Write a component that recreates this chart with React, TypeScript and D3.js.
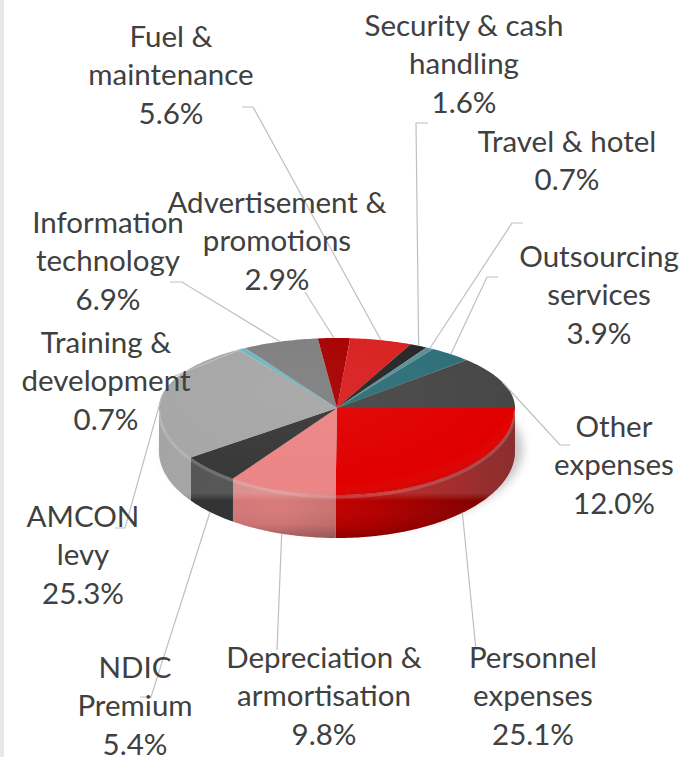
import React from "react";
import * as d3 from "d3";

// ---------- data ----------
const categories = [
  "Personnel\nexpenses",
  "Depreciation &\narmortisation",
  "NDIC\nPremium",
  "AMCON\nlevy",
  "Training &\ndevelopment",
  "Information\ntechnology",
  "Advertisement &\npromotions",
  "Fuel &\nmaintenance",
  "Security & cash\nhandling",
  "Travel & hotel",
  "Outsourcing\nservices",
  "Other\nexpenses",
];
const shares = [25.1, 9.8, 5.4, 25.3, 0.7, 6.9, 2.9, 5.6, 1.6, 0.7, 3.9, 12.0];
const colors = [
  "#E00000", "#EC8585", "#383838", "#A6A6A6", "#6FB6BE", "#7F7F7F",
  "#A80000", "#D92020", "#262626", "#5E8F96", "#2E6F78", "#474747",
];

// ---------- layout (label placement, as laid out in the reference) ----------
const labelPos: [number, number][] = [
  [533, 668], [324, 668], [135, 678], [83, 527], [106, 353], [108, 233],
  [277, 213], [171, 47], [464, 36], [567, 152], [599, 267], [614, 437],
];
const leaderElbows: [number, number][][] = [
  [[476, 650]],
  [[277, 650]],
  [[140, 697], [151, 697]],
  [[115, 528], [125, 528]],
  [[170, 378]],
  [[170, 282], [182, 282]],
  [[305, 292]],
  [[242, 107], [253, 107]],
  [[428, 123], [416, 123]],
  [[523, 223], [512, 223]],
  [[498, 277], [487, 277]],
  [[570, 445], [560, 445]],
];

const W = 681, H = 757;
const cx = 337, cy = 408, rx = 178, ryBack = 70, ryFront = 87, depth = 43;
const LH = 38.3;
const FONT = "Lato, 'Open Sans', sans-serif";
const FS = 29.5;

function pt(a: number, dy = 0): [number, number] {
  const c = Math.cos(a);
  const ry = c > 0 ? ryBack : ryFront;
  return [cx + rx * Math.sin(a), cy - ry * c + dy];
}

function arcPoints(a0: number, a1: number, dy = 0): [number, number][] {
  const n = Math.max(2, Math.ceil(Math.abs(a1 - a0) / (Math.PI / 180)));
  const out: [number, number][] = [];
  for (let i = 0; i <= n; i++) out.push(pt(a0 + ((a1 - a0) * i) / n, dy));
  return out;
}

function topPath(a0: number, a1: number) {
  const p = d3.path();
  p.moveTo(cx, cy);
  arcPoints(a0, a1).forEach(([x, y]) => p.lineTo(x, y));
  p.closePath();
  return p.toString();
}

function sidePath(a0: number, a1: number) {
  const p = d3.path();
  const top = arcPoints(a0, a1);
  const bot = arcPoints(a1, a0, depth);
  top.forEach(([x, y], i) => (i === 0 ? p.moveTo(x, y) : p.lineTo(x, y)));
  bot.forEach(([x, y]) => p.lineTo(x, y));
  p.closePath();
  return p.toString();
}

export default function App() {
  const pie = d3
    .pie<number>()
    .sort(null)
    .value((d) => d)
    .startAngle(Math.PI / 2)
    .endAngle(Math.PI / 2 + 2 * Math.PI);
  const arcs = pie(shares);

  const frontA = Math.PI / 2, frontB = (3 * Math.PI) / 2;

  const sides = arcs
    .map((a, i) => {
      const s = Math.max(a.startAngle, frontA);
      const e = Math.min(a.endAngle, frontB);
      if (e <= s) return null;
      return { i, d: sidePath(s, e) };
    })
    .filter(Boolean) as { i: number; d: string }[];

  const fullTop = topPath(Math.PI / 2, Math.PI / 2 + 2 * Math.PI);
  const frontRim = d3.line()(arcPoints(frontA, frontB, 2)) as string;

  return (
    <svg
      width={W}
      height={H}
      style={{ position: "absolute", left: 0, top: 0, background: "#fff" }}
      fontFamily={FONT}
    >
      <defs>
        <filter id="shadowBlur" x="-20%" y="-40%" width="140%" height="180%">
          <feGaussianBlur stdDeviation="5" />
        </filter>
        <linearGradient id="sideShade" gradientUnits="userSpaceOnUse" x1={cx - rx} x2={cx + rx} y1={0} y2={0}>
          <stop offset="0" stopColor="#000" stopOpacity="0.05" />
          <stop offset="0.35" stopColor="#000" stopOpacity="0" />
          <stop offset="0.6" stopColor="#000" stopOpacity="0.12" />
          <stop offset="1" stopColor="#000" stopOpacity="0.45" />
        </linearGradient>
        <linearGradient id="sideBevel" gradientUnits="userSpaceOnUse" x1={0} x2={0} y1={cy + ryFront - 2} y2={cy + ryFront + depth}>
          <stop offset="0" stopColor="#fff" stopOpacity="0.18" />
          <stop offset="0.18" stopColor="#fff" stopOpacity="0" />
          <stop offset="0.7" stopColor="#000" stopOpacity="0.05" />
          <stop offset="1" stopColor="#000" stopOpacity="0.25" />
        </linearGradient>
        <radialGradient id="topShade" cx="0.4" cy="0.35" r="0.7">
          <stop offset="0" stopColor="#fff" stopOpacity="0.05" />
          <stop offset="0.85" stopColor="#fff" stopOpacity="0" />
          <stop offset="1" stopColor="#000" stopOpacity="0.1" />
        </radialGradient>
      </defs>

      <rect x={0} y={0} width={4} height={H} fill="#E9E6E3" />

      {/* shadow */}
      <ellipse
        cx={cx + 6}
        cy={cy + depth - 2}
        rx={rx + 2}
        ry={ryFront - 4}
        fill="#000"
        opacity={0.22}
        filter="url(#shadowBlur)"
      />

      {/* side walls */}
      {sides.map(({ i, d }) => (
        <g key={"s" + i}>
          <path d={d} fill={d3.color(colors[i])!.darker(0.25).toString()} />
          <path d={d} fill="url(#sideShade)" />
          <path d={d} fill="url(#sideBevel)" />
        </g>
      ))}

      {/* top faces */}
      {arcs.map((a, i) => (
        <path key={"t" + i} d={topPath(a.startAngle, a.endAngle)} fill={colors[i]} />
      ))}
      <path d={fullTop} fill="url(#topShade)" />
      <path d={frontRim} fill="none" stroke="#fff" strokeOpacity={0.15} strokeWidth={3} />

      {/* leader lines */}
      {arcs.map((a, i) => {
        const mid = (a.startAngle + a.endAngle) / 2;
        const isFront = Math.cos(mid) < 0;
        const anchor = pt(mid, isFront ? depth : 0);
        const pts = [...leaderElbows[i], anchor];
        return (
          <path
            key={"l" + i}
            d={d3.line()(pts as [number, number][]) as string}
            fill="none"
            stroke="#BFBFBF"
            strokeWidth={1.2}
          />
        );
      })}

      {/* labels */}
      {arcs.map((a, i) => {
        const lines = [...categories[i].split("\n"), d3.format(".1f")(shares[i]) + "%"];
        const [x, y0] = labelPos[i];
        return (
          <text key={"x" + i} x={x} y={y0} textAnchor="middle" fontSize={FS} fill="#404040">
            {lines.map((ln, k) => (
              <tspan key={k} x={x} y={y0 + k * LH}>
                {ln}
              </tspan>
            ))}
          </text>
        );
      })}
    </svg>
  );
}
